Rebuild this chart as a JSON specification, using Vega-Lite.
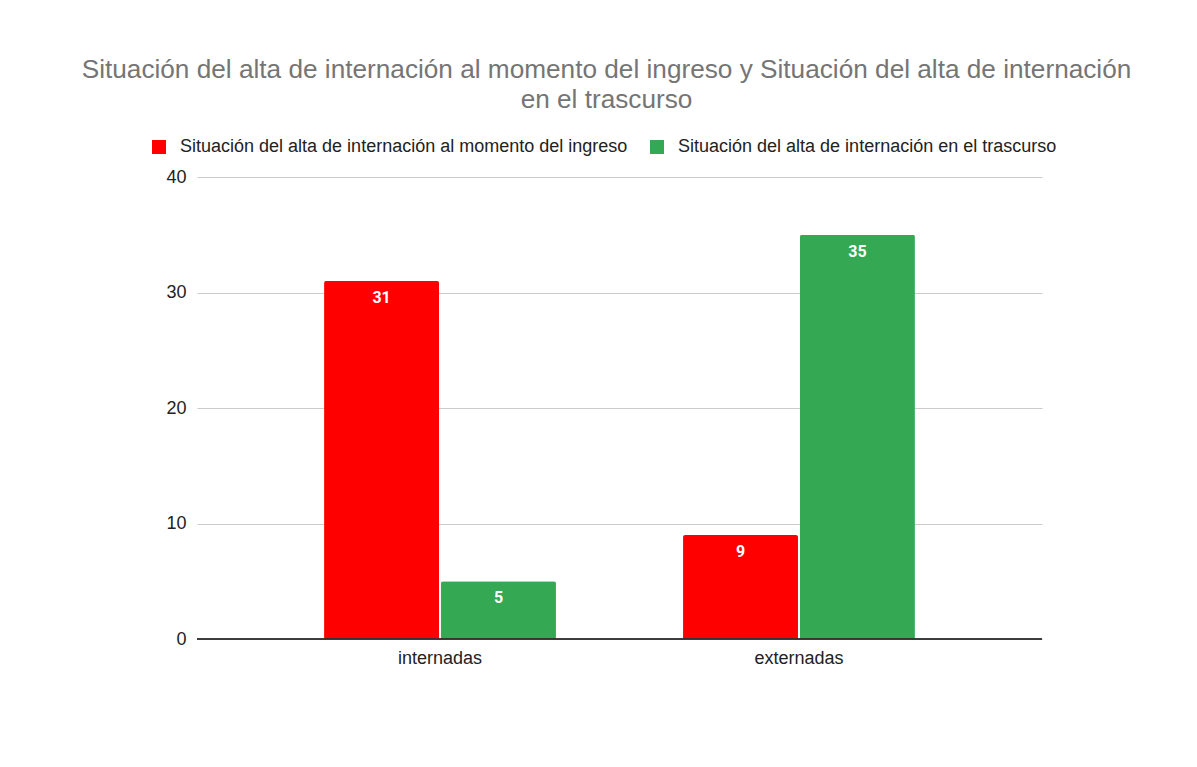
{
  "$schema": "https://vega.github.io/schema/vega-lite/v6.json",
  "autosize": "none",
  "width": 845,
  "height": 462,
  "padding": {"left": 197, "top": 177, "right": 155, "bottom": 128},
  "background": "#ffffff",
  "config": {"view": {"stroke": null}},
  "title": {
    "text": ["Situación del alta de internación al momento del ingreso y Situación del alta de internación", "en el trascurso"],
    "font": "Liberation Sans",
    "fontSize": 26.2,
    "fontWeight": "normal",
    "color": "#757575",
    "anchor": "middle",
    "dx": -13,
    "lineHeight": 30,
    "offset": 25
  },
  "data": {
    "values": [
      {"categoria": "internadas", "serie": "Situación del alta de internación al momento del ingreso", "valor": 31},
      {"categoria": "internadas", "serie": "Situación del alta de internación en el trascurso", "valor": 5},
      {"categoria": "externadas", "serie": "Situación del alta de internación al momento del ingreso", "valor": 9},
      {"categoria": "externadas", "serie": "Situación del alta de internación en el trascurso", "valor": 35}
    ]
  },
  "layer": [
    {
      "mark": {"type": "bar", "cornerRadiusTopLeft": 2, "cornerRadiusTopRight": 2},
      "encoding": {
        "x": {
          "field": "categoria",
          "type": "nominal",
          "sort": ["internadas", "externadas"],
          "scale": {"paddingInner": 0.354, "paddingOuter": 0.354},
          "axis": {
            "title": null,
            "labelAngle": 0,
            "labelFont": "Liberation Sans",
            "labelFontSize": 18,
            "labelColor": "#222222",
            "labelPadding": 10,
            "ticks": false,
            "domain": false,
            "grid": false
          }
        },
        "xOffset": {
          "field": "serie",
          "type": "nominal",
          "sort": ["Situación del alta de internación al momento del ingreso", "Situación del alta de internación en el trascurso"],
          "scale": {"paddingInner": 0.017}
        },
        "y": {
          "field": "valor",
          "type": "quantitative",
          "scale": {"domain": [0, 40]},
          "axis": {
            "title": null,
            "values": [0, 10, 20, 30, 40],
            "labelFont": "Liberation Sans",
            "labelFontSize": 18,
            "labelColor": "#222222",
            "labelPadding": 11,
            "ticks": false,
            "domain": false,
            "gridColor": "#cccccc",
            "gridWidth": 1
          }
        },
        "color": {
          "field": "serie",
          "type": "nominal",
          "scale": {
            "domain": ["Situación del alta de internación al momento del ingreso", "Situación del alta de internación en el trascurso"],
            "range": ["#ff0000", "#34a853"]
          },
          "legend": {
            "title": null,
            "orient": "none",
            "direction": "horizontal",
            "legendX": -47,
            "legendY": -39,
            "symbolType": "square",
            "symbolSize": 196,
            "symbolStrokeWidth": 0,
            "labelFont": "Liberation Sans",
            "labelFontSize": 18,
            "labelColor": "#222222",
            "labelOffset": 12,
            "columnPadding": 20,
            "labelLimit": 700
          }
        }
      }
    },
    {
      "mark": {"type": "text", "color": "#ffffff", "font": "Roboto", "fontWeight": "bold", "fontSize": 16, "baseline": "middle", "dy": 17},
      "encoding": {
        "x": {"field": "categoria", "type": "nominal", "sort": ["internadas", "externadas"]},
        "xOffset": {
          "field": "serie",
          "type": "nominal",
          "sort": ["Situación del alta de internación al momento del ingreso", "Situación del alta de internación en el trascurso"]
        },
        "y": {"field": "valor", "type": "quantitative"},
        "text": {"field": "valor", "type": "quantitative"}
      }
    },
    {
      "mark": {"type": "rule", "color": "#333333", "strokeWidth": 1},
      "encoding": {
        "y": {"datum": 0}
      }
    }
  ]
}
